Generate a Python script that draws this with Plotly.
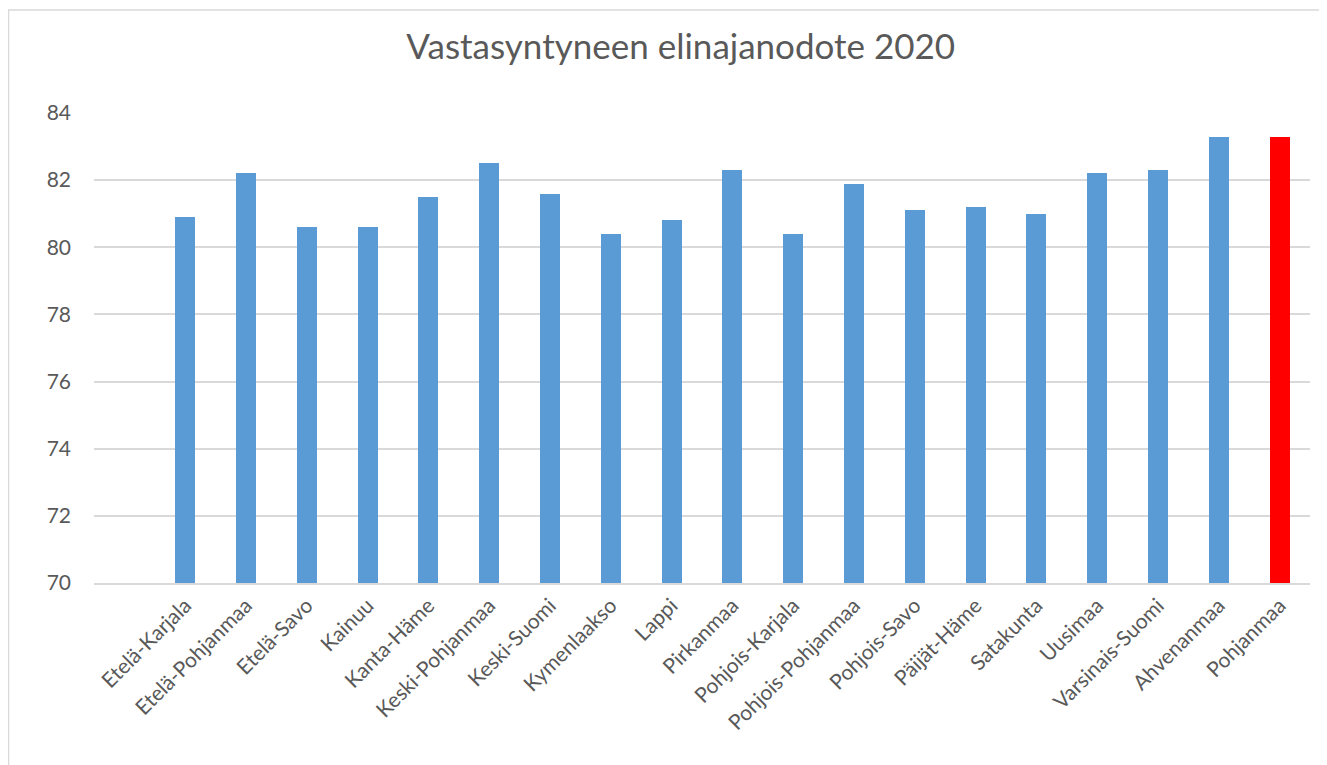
import plotly.graph_objects as go

regions = ["Etelä-Karjala", "Etelä-Pohjanmaa", "Etelä-Savo", "Kainuu", "Kanta-Häme",
           "Keski-Pohjanmaa", "Keski-Suomi", "Kymenlaakso", "Lappi", "Pirkanmaa",
           "Pohjois-Karjala", "Pohjois-Pohjanmaa", "Pohjois-Savo", "Päijät-Häme",
           "Satakunta", "Uusimaa", "Varsinais-Suomi", "Ahvenanmaa", "Pohjanmaa"]
life_expectancy = [80.9, 82.2, 80.6, 80.6, 81.5, 82.5, 81.6, 80.4, 80.8, 82.3,
                   80.4, 81.9, 81.1, 81.2, 81.0, 82.2, 82.3, 83.3, 83.3]
highlight = "Pohjanmaa"
y_ticks = [70, 72, 74, 76, 78, 80, 82, 84]

colors = ["#FF0000" if r == highlight else "#5B9BD5" for r in regions]

fig = go.Figure()
fig.add_trace(go.Bar(
    x=regions, y=life_expectancy, marker=dict(color=colors, line=dict(width=0)),
    width=0.33,
))

W, H = 1327, 765
L, R, T, B = 86, 25, 105, 190
pw, ph = W - L - R, H - T - B

font_family = "Lato, Open Sans, sans-serif"
fig.update_layout(
    width=W, height=H,
    margin=dict(l=L, r=R, t=T, b=B),
    paper_bgcolor="white", plot_bgcolor="white",
    title=dict(text="Vastasyntyneen elinajanodote 2020", x=0.507, xanchor="center",
               y=1 - 39 / H, yanchor="middle",
               font=dict(family=font_family, size=35, color="#595959")),
    font=dict(family=font_family, color="#595959"),
    showlegend=False,
    bargap=0,
)
fig.update_xaxes(
    type="category", range=[-1.5, 18.5], tickangle=-45,
    tickfont=dict(size=21, color="#595959"), showgrid=False,
    showline=True, linecolor="#d9d9d9", linewidth=2, ticks="",
    zeroline=False,
)
fig.update_yaxes(
    range=[70, 84], tickvals=y_ticks, tickfont=dict(size=21, color="#595959"),
    showgrid=True, gridcolor="#d9d9d9", gridwidth=1.5, zeroline=False,
    showline=False, ticks="", ticklabelstandoff=22,
)
fig.add_shape(type="rect", xref="paper", yref="paper",
              x0=(0.5 - L) / pw, x1=1.2, y0=-0.6, y1=(ph + T - 2) / ph,
              line=dict(color="#d9d9d9", width=1.5), fillcolor="rgba(0,0,0,0)",
              layer="below")
fig.write_html("out.html")
